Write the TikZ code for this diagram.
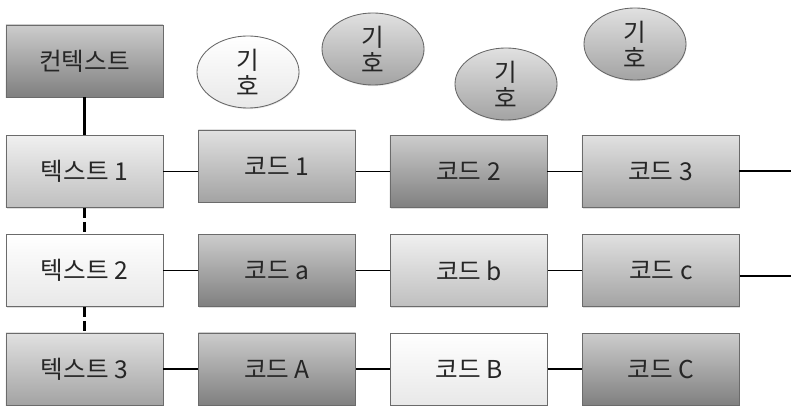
\documentclass[tikz,border=0pt]{standalone}
\usepackage{fontspec}
\setmainfont{Noto Sans CJK KR}
\usetikzlibrary{shapes.geometric,shadows}

\tikzset{
  box/.style={draw=black!58, line width=0.6pt, minimum width=3.925cm, minimum height=1.8cm,
              inner sep=0pt, text=black!85, font=\fontsize{17.5}{20}\selectfont,
              drop shadow={opacity=0.25,shadow xshift=0.5pt,shadow yshift=-0.9pt}},
  sym/.style={ellipse, draw=black!60, line width=0.6pt, minimum width=2.55cm, minimum height=1.8cm,
              inner sep=0pt, align=center, text=black!85, font=\fontsize{17.5}{18.5}\selectfont,
              drop shadow={opacity=0.2,shadow xshift=0.4pt,shadow yshift=-0.8pt}},
  whiteshade/.style={top color=white, bottom color=black!9},
  lightshade/.style={top color=black!6, bottom color=black!25},
  midshade/.style={top color=black!12, bottom color=black!36},
  darkshade/.style={top color=black!20, bottom color=black!50},
  hlink/.style={line width=1.1pt},
  vlink/.style={line width=2.2pt},
}

\begin{document}
\begin{tikzpicture}[x=0.025cm,y=-0.025cm]
  \useasboundingbox (0,0) rectangle (791,406);

  % left column
  \node[box,darkshade]  (ctx)  at (84.5,61)    {컨텍스트};
  \node[box,lightshade] (txt1) at (84.5,171.5) {텍스트 1};
  \node[box,whiteshade] (txt2) at (84.5,270.5) {텍스트 2};
  \node[box,midshade]   (txt3) at (84.5,369)   {텍스트 3};

  % code rows
  \node[box,midshade]   (c1) at (277,166)     {코드 1};
  \node[box,darkshade]  (c2) at (468.5,171.5) {코드 2};
  \node[box,midshade]   (c3) at (660.5,171.5) {코드 3};

  \node[box,darkshade]  (ca) at (277,270.5)   {코드 a};
  \node[box,lightshade] (cb) at (469,270.5)   {코드 b};
  \node[box,midshade]   (cc) at (661,270.5)   {코드 c};

  \node[box,darkshade]  (cA) at (277,369)     {코드 A};
  \node[box,whiteshade] (cB) at (469,369)     {코드 B};
  \node[box,darkshade]  (cC) at (661,369.5)   {코드 C};

  % symbols
  \node[sym,whiteshade] (s1) at (248,72) {기\\호};
  \node[sym,midshade]   (s2) at (373,49) {기\\호};
  \node[sym,midshade]   (s3) at (506,84) {기\\호};
  \node[sym,midshade]   (s4) at (635,44) {기\\호};

  \coordinate (end1) at (791,171);
  \coordinate (end2) at (791,276);

  \draw[vlink] (ctx) -- (txt1);
  \draw[vlink,dash pattern=on 7pt off 3pt] (txt1) -- (txt2);
  \draw[vlink,dash pattern=on 7pt off 3pt] (txt2) -- (txt3);

  \draw[hlink] (txt1.east) -- (txt1.east -| c1.west);
  \draw[hlink] (c2.west -| c1.east) -- (c2.west);
  \draw[hlink] (c2) -- (c3);
  \draw[hlink] (c3.east |- end1) -- (end1);

  \draw[hlink] (txt2) -- (ca);
  \draw[hlink] (ca) -- (cb);
  \draw[hlink] (cb) -- (cc);
  \draw[hlink] (cc.east |- end2) -- (end2);

  \draw[hlink] (txt3) -- (cA);
  \draw[hlink] (cA) -- (cB);
  \draw[hlink] (cB.east) -- (cB.east -| cC.west);
\end{tikzpicture}
\end{document}
